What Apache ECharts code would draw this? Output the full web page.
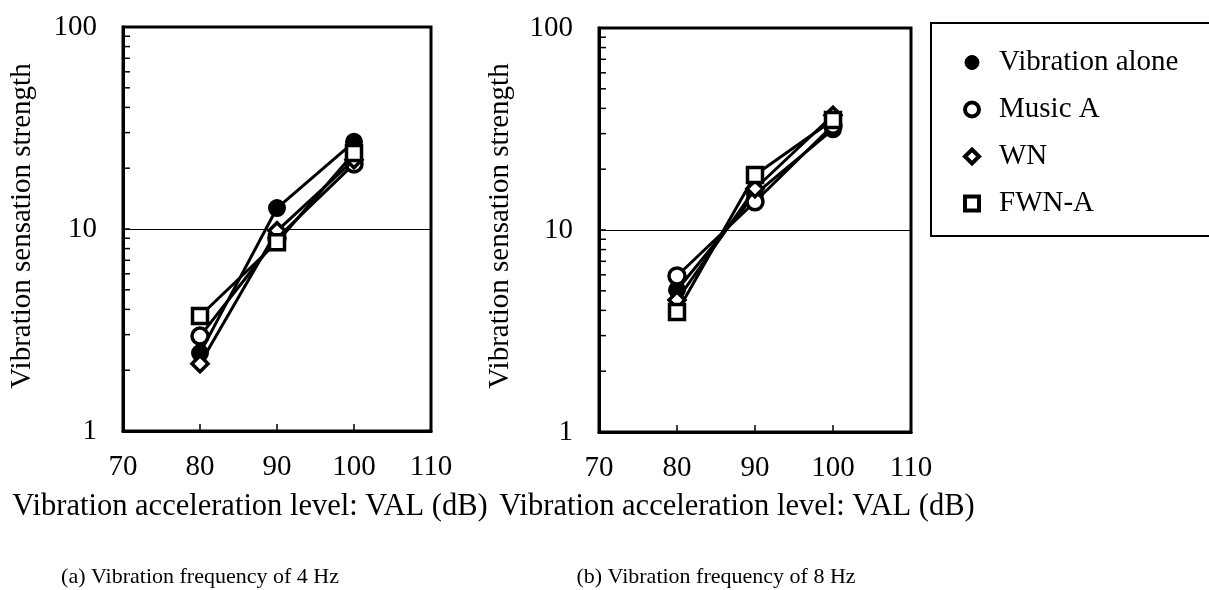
<!DOCTYPE html>
<html><head><meta charset="utf-8">
<script src="https://cdn.jsdelivr.net/npm/echarts@6/dist/echarts.min.js"></script>
<style>html,body{margin:0;padding:0;background:#fff}#c{width:1209px;height:590px}</style>
</head><body><div id="c"></div>
<script>
const xValues = [80, 90, 100];
const seriesNames = ['Vibration alone', 'Music A', 'WN', 'FWN-A'];
// (a) 4 Hz
const hz4_vibrationAlone = [2.43, 12.7, 27.0];
const hz4_musicA = [2.95, 9.0, 21.0];
const hz4_wn = [2.15, 9.8, 22.0];
const hz4_fwnA = [3.71, 8.6, 23.8];
// (b) 8 Hz
const hz8_vibrationAlone = [5.05, 15.0, 31.5];
const hz8_musicA = [5.92, 13.8, 33.0];
const hz8_wn = [4.5, 16.0, 37.0];
const hz8_fwnA = [3.93, 18.7, 35.0];
const yMinorTicks = [2,3,4,5,6,7,8,9,20,30,40,50,60,70,80,90];
const xTickLabels = ['70','80','90','100','110'];
const yTickLabels = ['1','10','100'];
const captions = ['(a) Vibration frequency of 4 Hz', '(b) Vibration frequency of 8 Hz'];
const xAxisTitle = 'Vibration acceleration level: VAL (dB)';
const yAxisTitle = 'Vibration sensation strength';

const FONT = 'Liberation Serif';
const FS = 29;
const chart = echarts.init(document.getElementById('c'), null, {renderer: 'canvas'});

const styles = [
  {symbol: 'circle', symbolSize: 16, itemStyle: {color: '#000', borderColor: '#000', borderWidth: 2}},
  {symbol: 'circle', symbolSize: 16, itemStyle: {color: '#fff', borderColor: '#000', borderWidth: 3.5}},
  {symbol: 'diamond', symbolSize: 16, itemStyle: {color: '#fff', borderColor: '#000', borderWidth: 3.5}},
  {symbol: 'rect', symbolSize: 15, itemStyle: {color: '#fff', borderColor: '#000', borderWidth: 3.5}}
];
const panels = [
  [hz4_vibrationAlone, hz4_musicA, hz4_wn, hz4_fwnA],
  [hz8_vibrationAlone, hz8_musicA, hz8_wn, hz8_fwnA]
];
const grids = [
  {left: 123, top: 27, width: 308, height: 404},
  {left: 599, top: 28, width: 312, height: 404}
];

const series = [];
panels.forEach((panel, gi) => {
  series.push({
    type: 'custom', xAxisIndex: gi, yAxisIndex: gi, silent: true, z: 1,
    data: yMinorTicks.map(v => [70, v]),
    renderItem: (params, api) => {
      const p = api.coord([api.value(0), api.value(1)]);
      return {type: 'line', shape: {x1: p[0], y1: p[1], x2: p[0] + 7, y2: p[1]},
        style: {stroke: '#000', lineWidth: 1.5}};
    }
  });
  panel.forEach((vals, si) => {
    series.push(Object.assign({
      name: seriesNames[si], type: 'line', xAxisIndex: gi, yAxisIndex: gi, z: 3 + si,
      data: xValues.map((x, i) => [x, vals[i]]),
      lineStyle: {color: '#000', width: 3},
      showSymbol: true, animation: false
    }, JSON.parse(JSON.stringify(styles[si]))));
  });
});

const xAxes = grids.map((g, i) => ({
  type: 'value', gridIndex: i, min: 70, max: 110, interval: 10,
  axisLine: {show: true, lineStyle: {color: '#000', width: 3}},
  axisTick: {show: true, inside: true, length: 7, lineStyle: {color: '#000', width: 1.5}},
  axisLabel: {color: '#000', fontFamily: FONT, fontSize: FS, margin: 22},
  splitLine: {show: false}
}));
const yAxes = grids.map((g, i) => ({
  type: 'log', logBase: 10, gridIndex: i, min: 1, max: 100,
  axisLine: {show: true, lineStyle: {color: '#000', width: 3}},
  axisTick: {show: true, inside: true, length: 7, lineStyle: {color: '#000', width: 1.5}},
  axisLabel: {color: '#000', fontFamily: FONT, fontSize: FS, margin: 26},
  splitLine: {show: true, lineStyle: {color: '#000', width: 1}}
}));

const txt = (t, x, y, rot, fs) => ({type: 'text', x: x, y: y, rotation: rot,
  style: {text: t, font: fs + 'px ' + FONT, fill: '#000', align: 'center', verticalAlign: 'middle'}});

chart.setOption({
  animation: false,
  backgroundColor: '#fff',
  grid: grids.map(g => Object.assign({show: true, borderColor: '#000', borderWidth: 3, backgroundColor: 'transparent'}, g)),
  xAxis: xAxes,
  yAxis: yAxes,
  legend: {
    orient: 'vertical', left: 931, top: 23,
    padding: [25, 120, 18, 32],
    backgroundColor: '#fff', borderColor: '#000', borderWidth: 2,
    itemWidth: 14, itemHeight: 14, itemGap: 18,
    textStyle: {color: '#000', fontFamily: FONT, fontSize: FS, lineHeight: 29, padding: [0, 0, 0, 15]},
    data: seriesNames.map((n, i) => ({name: n, icon: styles[i].symbol,
      itemStyle: {color: styles[i].itemStyle.color, borderColor: '#000', borderWidth: i === 0 ? 1 : 4}})),
    selectedMode: false
  },
  graphic: [
    txt(yAxisTitle, 22, 226, Math.PI / 2, FS),
    txt(yAxisTitle, 500, 226, Math.PI / 2, FS),
    txt(xAxisTitle, 250, 507, 0, 30.5),
    txt(xAxisTitle, 737, 507, 0, 30.5),
    txt(captions[0], 200, 577, 0, 22),
    txt(captions[1], 716, 577, 0, 22)
  ],
  series: series
});
</script></body></html>
